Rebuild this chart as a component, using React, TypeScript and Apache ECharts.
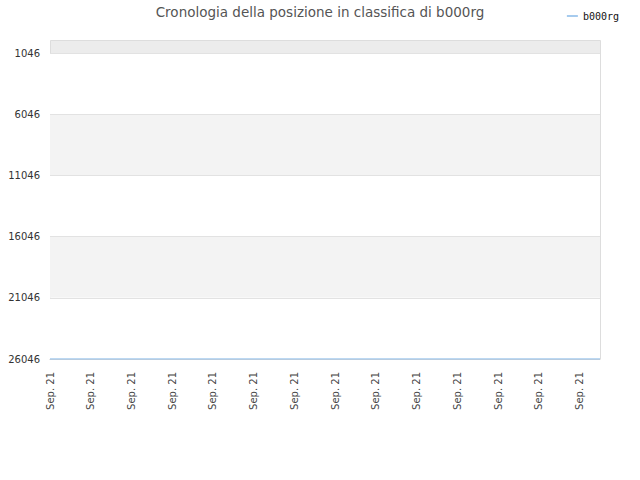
import React, { useEffect, useRef } from 'react'
import * as echarts from 'echarts'

/*==================================================================
    DATA
==================================================================*/
const dates: string[] = Array.from({ length: 28 }, () => 'Sep. 21')
const ranks: number[] = [
  26046, 26046, 26046, 26046, 26046, 26046, 26046,
  26046, 26046, 26046, 26046, 26046, 26046, 26046,
  26046, 26046, 26046, 26046, 26046, 26046, 26046,
  26046, 26046, 26046, 26046, 26046, 26046, 26046,
]
const rankMin = 1046
const rankMax = 26046
const rankStep = 5000

/*==================================================================
    CHART
==================================================================*/
export default function App() {
  const ref = useRef<HTMLDivElement>(null)

  useEffect(() => {
    document.body.style.margin = '0'
    if (!ref.current) return
    const chart = echarts.init(ref.current, undefined, { renderer: 'svg' })

    const option: echarts.EChartsOption = {
      animation: false,
      backgroundColor: '#fff',
      title: {
        text: 'Cronologia della posizione in classifica di b000rg',
        left: 'center',
        top: 0,
        textStyle: { fontFamily: 'DejaVu Sans', fontSize: 13.5, fontWeight: 'normal', color: '#555' },
      },
      legend: {
        right: 16,
        top: 6,
        itemWidth: 11,
        itemHeight: 2,
        itemGap: 8,
        icon: 'rect',
        textStyle: { fontFamily: 'DejaVu Sans Mono', fontSize: 10, color: '#111' },
        data: ['b000rg'],
      },
      grid: { left: 50, right: 40, top: 53, bottom: 121, containLabel: false },
      graphic: [
        {
          type: 'rect',
          left: 50,
          top: 40,
          shape: { width: 550, height: 13 },
          style: { fill: '#ececec', stroke: '#dddddd', lineWidth: 1 },
          silent: true,
        },
        {
          type: 'line',
          shape: { x1: 50.5, y1: 53, x2: 50.5, y2: 359 },
          style: { stroke: '#dddddd', lineWidth: 1 },
          silent: true,
        },
        {
          type: 'line',
          shape: { x1: 600.5, y1: 53, x2: 600.5, y2: 359 },
          style: { stroke: '#dddddd', lineWidth: 1 },
          silent: true,
        },
      ],
      xAxis: {
        type: 'category',
        data: dates,
        boundaryGap: false,
        axisLine: { show: true, lineStyle: { color: '#cccccc' } },
        axisTick: { show: false },
        axisLabel: {
          interval: 1,
          rotate: 90,
          margin: 13,
          fontFamily: 'DejaVu Sans',
          fontSize: 10,
          color: '#444',
        },
        splitLine: { show: false },
      },
      yAxis: {
        type: 'value',
        inverse: true,
        min: rankMin,
        max: rankMax,
        interval: rankStep,
        axisLine: { show: false },
        axisTick: { show: false },
        axisLabel: {
          margin: 10,
          fontFamily: 'DejaVu Sans',
          fontSize: 10,
          color: '#333',
          formatter: (v: number) => String(v),
        },
        splitLine: { show: true, lineStyle: { color: '#e2e2e2' } },
        splitArea: { show: true, areaStyle: { color: ['#ffffff', '#f3f3f3'] } },
      },
      series: [
        {
          name: 'b000rg',
          type: 'line',
          data: ranks,
          symbol: 'none',
          lineStyle: { color: '#a6cbee', width: 1.5 },
          itemStyle: { color: '#a6cbee' },
        },
      ],
    }

    chart.setOption(option)
    return () => { chart.dispose() }
  }, [])

  return <div ref={ref} style={{ width: 640, height: 480 }} />
}
